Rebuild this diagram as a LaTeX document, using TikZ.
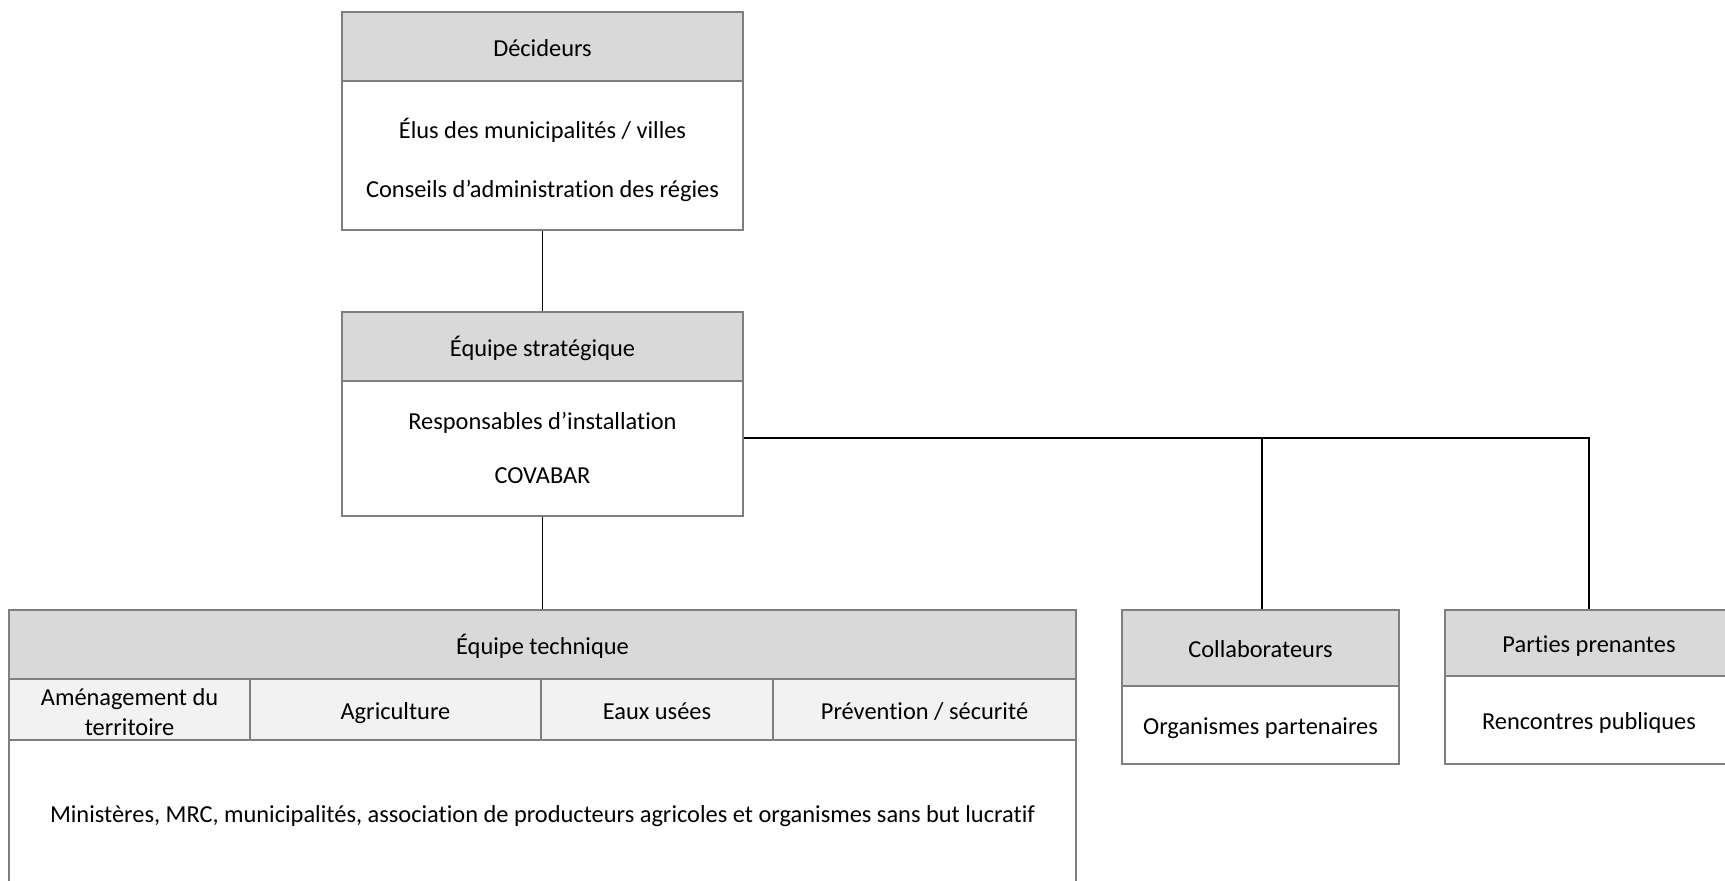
\documentclass[tikz,border=0pt]{standalone}
\usepackage{fontspec}
\setmainfont{Carlito}[Ligatures=NoCommon]
\definecolor{hdrgray}{HTML}{D9D9D9}
\definecolor{subgray}{HTML}{F2F2F2}
\definecolor{edgegray}{HTML}{7F7F7F}
\tikzset{
  box/.style={draw=edgegray, line width=0.6pt, inner sep=0pt, text height=11.5pt, text depth=1.7pt, font=\fontsize{12.2}{15}\selectfont},
  hdr/.style={box, fill=hdrgray},
  sub/.style={box, fill=subgray},
  body/.style={box, fill=white},
  txt/.style={inner sep=0pt, text height=11.5pt, text depth=1.7pt, font=\fontsize{12.2}{15}\selectfont},
  link/.style={draw=black, line width=0.8pt}
}
\begin{document}
\begin{tikzpicture}[x=0.5pt, y=-0.5pt]
\clip (0,0) rectangle (1725,881);
\useasboundingbox (0,0) rectangle (1725,881);
\fill[white] (0,0) rectangle (1725,881);

% Décideurs
\node[hdr, minimum width=200.5pt, minimum height=34.5pt] (dech) at (542.5,46.5) {Décideurs};
\node[body, minimum width=200.5pt, minimum height=74.5pt] (decb) at (542.5,155.5) {};
\node[txt] (dec1) at (542.5,129) {Élus des municipalités / villes};
\node[txt] (dec2) at (542.5,188) {Conseils d’administration des régies};

% Équipe stratégique
\node[hdr, minimum width=200.5pt, minimum height=34.5pt] (strh) at (542.5,346.5) {Équipe stratégique};
\node[body, minimum width=200.5pt, minimum height=67.5pt] (strb) at (542.5,448.5) {};
\node[txt] (str1) at (542.5,420) {Responsables d’installation};
\node[txt] (str2) at (542.5,474) {COVABAR};

% Équipe technique
\node[hdr, minimum width=533.5pt, minimum height=34.5pt] (tech) at (542.5,644.5) {Équipe technique};
\node[sub, minimum width=120.5pt, minimum height=30.5pt] (t1) at (129.5,709.5) {};
\node[txt] (t1a) at (129.5,696) {Aménagement du};
\node[txt] (t1b) at (129.5,726) {territoire};
\node[sub, minimum width=145.5pt, minimum height=30.5pt] (t2) at (395.5,709.5) {Agriculture};
\node[sub, minimum width=116pt, minimum height=30.5pt] (t3) at (657,709.5) {Eaux usées};
\node[sub, minimum width=151.5pt, minimum height=30.5pt] (t4) at (924.5,709.5) {Prévention / sécurité};
\node[body, minimum width=533.5pt, minimum height=77pt] (techb) at (542.5,817) {};
\node[txt] (tech1) at (542.5,813) {Ministères, MRC, municipalités, association de producteurs agricoles et organismes sans but lucratif};

% Collaborateurs
\node[hdr, minimum width=138.5pt, minimum height=38pt] (colh) at (1260.5,648) {Collaborateurs};
\node[body, minimum width=138.5pt, minimum height=39pt] (colb) at (1260.5,725) {Organismes partenaires};

% Parties prenantes
\node[hdr, minimum width=144pt, minimum height=33pt] (parh) at (1589,643) {Parties prenantes};
\node[body, minimum width=144pt, minimum height=44pt] (parb) at (1589,720) {Rencontres publiques};

% Connectors
\coordinate (jc) at (1262,438);
\draw[link] (decb.south) -- (strh.north);
\draw[link] (strb.south) -- (tech.north);
\draw[link] (strb.east |- jc) -| (parh.north);
\draw[link] (jc) -- (jc |- colh.north);
\end{tikzpicture}
\end{document}
